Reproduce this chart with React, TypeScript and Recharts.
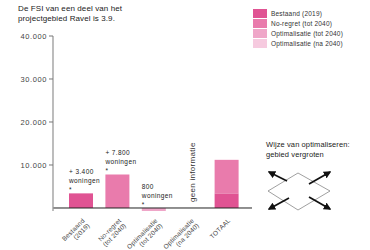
import React from 'react';
import { BarChart, Bar, XAxis, YAxis, ReferenceLine, LabelList, Legend } from 'recharts';

const categories = ['Bestaand (2019)', 'No-regret (tot 2040)', 'Optimalisatie (tot 2040)', 'Optimalisatie (na 2040)', 'TOTAAL'];
const bestaand = [3400, 0, 0, 0, 3400];
const noRegret = [0, 7800, 0, 0, 7800];
const optTot = [0, 0, -700, 0, 0];
const optNa = [0, 0, 0, 0, 0];
const annotationValues = ['+ 3.400', '+ 7.800', '800', '', ''];
const annotationUnit = 'woningen';
const noInfoCategory = 'Optimalisatie (na 2040)';
const noInfoLabel = 'geen informatie';
const yTicks = [10000, 20000, 30000, 40000];
const seriesKeys = ['bestaand', 'noRegret', 'optTot', 'optNa'];
const seriesNames = ['Bestaand (2019)', 'No-regret (tot 2040)', 'Optimalisatie (tot 2040)', 'Optimalisatie (na 2040)'];
const seriesColors = ['#e05393', '#e97bac', '#efa6c8', '#f6cadf'];
const titleLines = ['De FSI van een deel van het', 'projectgebied Ravel is 3.9.'];
const sideTitleLines = ['Wijze van optimaliseren:', 'gebied vergroten'];

const seriesValues: Record<string, number[]> = { bestaand, noRegret, optTot, optNa };

const data = categories.map((name, i) => {
  const row: Record<string, any> = { name, annotation: annotationValues[i] };
  seriesKeys.forEach((k) => { row[k] = seriesValues[k][i]; });
  return row;
});

const FONT = '"Liberation Sans", Arial, sans-serif';

const fmt = (v: number) => String(v).replace(/\B(?=(\d{3})+(?!\d))/g, '.');

const CategoryTick = (props: any) => {
  const { x, y, payload } = props;
  const s = String(payload.value);
  const i = s.indexOf(' (');
  const lines = i >= 0 ? [s.slice(0, i), s.slice(i + 1)] : [s];
  return (
    <g transform={`translate(${x + 4},${y})`}>
      <text transform="rotate(-45)" textAnchor="end" fontSize={6.5} fill="#444" fontFamily={FONT} letterSpacing={0.2}>
        {lines.map((l, k) => (
          <tspan key={k} x={0} dy={k === 0 ? 0 : 7}>{l}</tspan>
        ))}
      </text>
    </g>
  );
};

const Annotation = (props: any) => {
  const { x, y, height, value } = props;
  if (!value) return null;
  const top = Math.min(Number(y), Number(y) + Number(height));
  return (
    <text x={x} y={top - 1} fontSize={6.5} fill="#222" fontFamily={FONT} letterSpacing={0.4}>
      <tspan x={x} dy={-18}>{value}</tspan>
      <tspan x={x} dy={9}>{annotationUnit}</tspan>
      <tspan x={x} dy={9}>*</tspan>
    </text>
  );
};

const NoInfo = (props: any) => {
  const vb = props.viewBox || {};
  const cx = Number(vb.x) + 2;
  const by = Number(vb.y) + Number(vb.height) - 9;
  return (
    <text x={cx} y={by} transform={`rotate(-90 ${cx} ${by})`} fontSize={8} fill="#333" fontFamily={FONT}
      dominantBaseline="middle" letterSpacing={0.3}>
      {noInfoLabel}
    </text>
  );
};

const LegendContent = () => (
  <div style={{ fontFamily: FONT }}>
    {seriesNames.map((n, i) => (
      <div key={n} style={{ display: 'flex', alignItems: 'center', height: 10 }}>
        <div style={{ width: 14, height: 9, background: seriesColors[i], marginRight: 4 }} />
        <span style={{ fontSize: 6.5, color: '#333', letterSpacing: 0.2, whiteSpace: 'nowrap' }}>{n}</span>
      </div>
    ))}
  </div>
);

const Illustration = () => (
  <svg width={370} height={250} style={{ position: 'absolute', left: 0, top: 0, pointerEvents: 'none' }}>
    <defs>
      <marker id="ah" viewBox="0 0 10 10" refX="8" refY="5" markerWidth="4.5" markerHeight="4.5" orient="auto-start-reverse">
        <path d="M0,0 L10,5 L0,10 z" fill="#111" />
      </marker>
    </defs>
    <polygon points="268,191 298,173 330,191 298,210" fill="none" stroke="#777" strokeWidth={0.7} />
    <line x1={287} y1={181} x2={269} y2={172} stroke="#111" strokeWidth={1.7} markerEnd="url(#ah)" />
    <line x1={309} y1={184} x2={330} y2={172} stroke="#111" strokeWidth={1.7} markerEnd="url(#ah)" />
    <line x1={289} y1={198} x2={269} y2={209} stroke="#111" strokeWidth={1.7} markerEnd="url(#ah)" />
    <line x1={309} y1={197} x2={330} y2={209} stroke="#111" strokeWidth={1.7} markerEnd="url(#ah)" />
  </svg>
);

export default function App() {
  return (
    <div style={{ position: 'absolute', left: 0, top: 0, width: 370, height: 250, background: '#fff', fontFamily: FONT }}>
      <div style={{ position: 'absolute', left: 18, top: 4, fontSize: 8, lineHeight: '10px', color: '#222', letterSpacing: 0.1 }}>
        {titleLines.map((l) => <div key={l} style={{ whiteSpace: 'nowrap' }}>{l}</div>)}
      </div>
      <div style={{ position: 'absolute', left: 266, top: 140, fontSize: 7.5, lineHeight: '10px', color: '#222', letterSpacing: 0.1 }}>
        {sideTitleLines.map((l) => <div key={l} style={{ whiteSpace: 'nowrap' }}>{l}</div>)}
      </div>
      <BarChart width={370} height={250} data={data} margin={{ top: 36, right: 118, left: 0, bottom: 9 }} barSize={24}>
        <XAxis dataKey="name" axisLine={false} tickLine={false} tickSize={0} tickMargin={10} height={30}
          interval={0} tick={<CategoryTick />} padding={{ left: 10, right: 7 }} />
        <YAxis width={53} domain={[-700, 40000]} ticks={yTicks} tickFormatter={fmt} tickSize={4} tickMargin={2}
          axisLine={{ stroke: '#999', strokeWidth: 1.3 }} tickLine={{ stroke: '#777' }}
          tick={{ fontSize: 7.5, fill: '#444', fontFamily: FONT, letterSpacing: 0.6 }} />
        {seriesKeys.map((k, i) => (
          <Bar key={k} dataKey={k} name={seriesNames[i]} stackId="a" fill={seriesColors[i]} isAnimationActive={false}>
            <LabelList dataKey="annotation" content={<Annotation />} />
          </Bar>
        ))}
        <ReferenceLine y={0} stroke="#222" strokeWidth={1} />
        <ReferenceLine x={noInfoCategory} stroke="none" label={<NoInfo />} />
        <Legend layout="horizontal" verticalAlign="middle" align="center" content={<LegendContent />}
          wrapperStyle={{ left: 253, top: 8, width: 117, height: 40 }} />
      </BarChart>
      <Illustration />
    </div>
  );
}
